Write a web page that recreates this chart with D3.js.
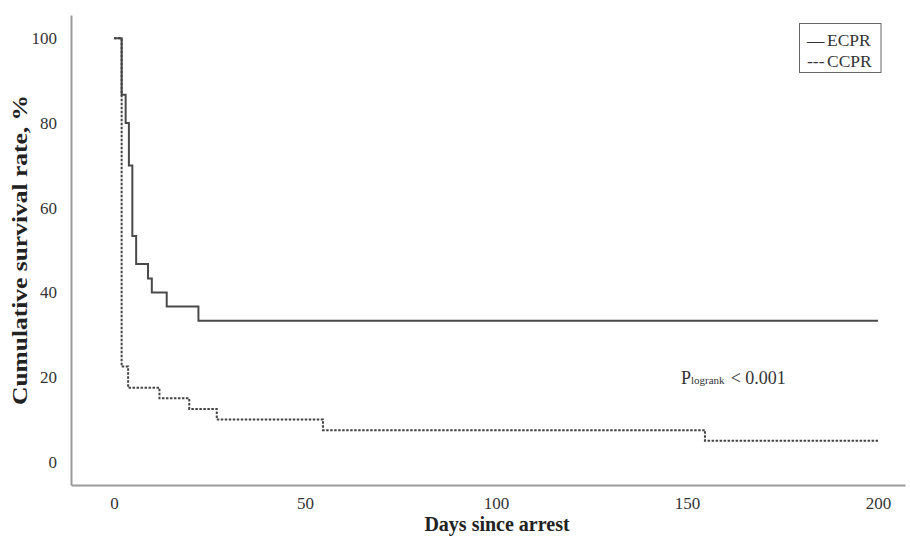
<!DOCTYPE html>
<html>
<head>
<meta charset="utf-8">
<script src="https://cdn.jsdelivr.net/npm/d3@7"></script>
<style>
  html, body { margin: 0; padding: 0; background: #fff; }
  svg { display: block; }
</style>
</head>
<body>
<svg id="chart" width="910" height="540"></svg>
<script>
// ---- data ----
const ecprDays = [0, 2.0, 3.05, 3.9, 4.8, 5.8, 8.9, 9.9, 13.8, 22.1, 200];
const ecprSurv = [100, 86.7, 80.0, 70.0, 53.3, 46.7, 43.3, 40.0, 36.7, 33.3, 33.3];
const ccprDays = [0, 2.0, 3.7, 11.9, 19.7, 26.9, 54.7, 154.7, 200];
const ccprSurv = [100, 22.5, 17.5, 15.0, 12.5, 10.0, 7.5, 5.0, 5.0];
const xTicks = [0, 50, 100, 150, 200];
const yTicks = [0, 20, 40, 60, 80, 100];
const seriesNames = ["ECPR", "CCPR"];
const xTitle = "Days since arrest";
const yTitle = "Cumulative survival rate, %";

const svg = d3.select("#chart");
const serif = "'Liberation Serif', 'Times New Roman', serif";

const x = d3.scaleLinear().domain([0, 200]).range([114, 878]);
const y = d3.scaleLinear().domain([0, 100]).range([461.9, 38.3]);

const axisX = x.copy().domain([x.invert(71), x.invert(905)]).range([71, 905]);
const axisY = y.copy().domain([y.invert(485), y.invert(15)]).range([485, 15]);

// axes
const gx = svg.append("g").attr("transform", "translate(0,485)")
  .call(d3.axisBottom(axisX).tickValues(xTicks).tickSize(0).tickPadding(12).tickFormat(d3.format("d")));
const gy = svg.append("g").attr("transform", "translate(71,0)")
  .call(d3.axisLeft(axisY).tickValues(yTicks).tickSize(0).tickPadding(14).tickFormat(d3.format("d")));
[gx, gy].forEach(g => {
  g.select(".domain").attr("stroke", "#9a9a9a").attr("stroke-width", 2);
  g.selectAll("text").attr("font-family", serif).attr("font-size", 17).attr("fill", "#333");
});

// lines
const line = d3.line().x(d => x(d[0])).y(d => y(d[1])).curve(d3.curveStepAfter);
svg.append("path")
  .datum(d3.zip(ecprDays, ecprSurv))
  .attr("d", line).attr("fill", "none").attr("stroke", "#4a4a4a").attr("stroke-width", 2);
svg.append("path")
  .datum(d3.zip(ccprDays, ccprSurv))
  .attr("d", line).attr("fill", "none").attr("stroke", "#444").attr("stroke-width", 2)
  .attr("stroke-dasharray", "2.5,1.5");

// titles
svg.append("text").attr("x", 497).attr("y", 531).attr("text-anchor", "middle")
  .attr("font-family", serif).attr("font-weight", "bold").attr("font-size", 20).attr("fill", "#222")
  .text(xTitle);
svg.append("text").attr("transform", "translate(27,250) rotate(-90)").attr("text-anchor", "middle")
  .attr("font-family", serif).attr("font-weight", "bold").attr("font-size", 22).attr("fill", "#222")
  .attr("textLength", 310).attr("lengthAdjust", "spacingAndGlyphs")
  .text(yTitle);

// legend
svg.append("rect").attr("x", 799.5).attr("y", 23.5).attr("width", 81.5).attr("height", 49)
  .attr("fill", "#fff").attr("stroke", "#666").attr("stroke-width", 1);
const legMarks = ["\u2014", "---"];
seriesNames.forEach((n, i) => {
  const ly = 46 + i * 21;
  svg.append("text").attr("x", 807).attr("y", ly).attr("font-family", serif).attr("font-size", 17.5)
    .attr("fill", "#333").text(legMarks[i]);
  svg.append("text").attr("x", 827).attr("y", ly).attr("font-family", serif).attr("font-size", 17.5)
    .attr("fill", "#333").text(n);
});

// p-value annotation
const pt = svg.append("text").attr("x", 681).attr("y", 384).attr("font-family", serif)
  .attr("font-size", 18).attr("fill", "#333");
pt.append("tspan").text("P");
pt.append("tspan").attr("font-size", 11).text("logrank");
pt.append("tspan").attr("dx", 6).text("< 0.001");
</script>
</body>
</html>
